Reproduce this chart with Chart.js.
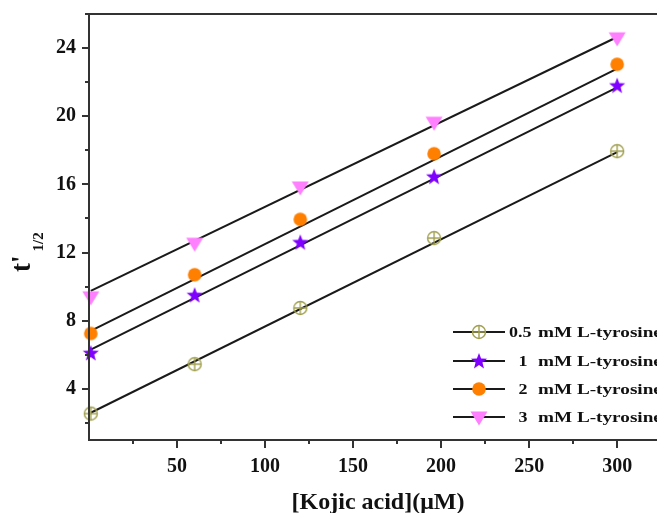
<!DOCTYPE html>
<html>
<head>
<meta charset="utf-8">
<script src="https://cdn.jsdelivr.net/npm/chart.js@4/dist/chart.umd.min.js"></script>
<style>
  html, body { margin: 0; padding: 0; background: #fff; overflow: hidden; }
  #wrap { width: 680px; height: 513px; }
</style>
</head>
<body>
<div id="wrap"><canvas id="kojicChart" width="680" height="513"></canvas></div>
<script>
// data
const kojicX = [1, 60, 120, 196, 300];
const tyr05 = [2.55, 5.45, 8.75, 12.85, 17.95];
const tyr1 = [6.1, 9.5, 12.6, 16.45, 21.8];
const tyr2 = [7.25, 10.7, 13.95, 17.8, 23.05];
const tyr3 = [9.4, 12.55, 15.85, 19.65, 24.6];

// fitted lines (end points)
const fitX = [1, 300];
const fit05 = [2.6, 17.9];
const fit1 = [6.3, 21.7];
const fit2 = [7.4, 22.8];
const fit3 = [9.75, 24.65];

const seriesNums = ["0.5", "1", "2", "3"];
const seriesUnit = "mM L-tyrosine";

const xTicks = [25, 50, 75, 100, 125, 150, 175, 200, 225, 250, 275, 300, 325];
const xTickLabels = [50, 100, 150, 200, 250, 300];
const yTicks = [2, 4, 6, 8, 10, 12, 14, 16, 18, 20, 22, 24, 26];
const yTickLabels = [4, 8, 12, 16, 20, 24];

const FONT = "'Liberation Serif', 'Times New Roman', serif";
const AXIS_COLOR = "#333";

// marker images
function makeMarker(kind, color) {
    const c = document.createElement("canvas");
    c.width = 20; c.height = 20;
    const g = c.getContext("2d");
    const cx = 10, cy = 10;
    g.fillStyle = color;
    g.strokeStyle = color;
    if (kind === "oplus") {
        g.lineWidth = 1.4;
        g.beginPath(); g.arc(cx, cy, 6.5, 0, Math.PI * 2); g.stroke();
        g.beginPath();
        g.moveTo(cx - 6.5, cy); g.lineTo(cx + 6.5, cy);
        g.moveTo(cx, cy - 6.5); g.lineTo(cx, cy + 6.5);
        g.stroke();
    } else if (kind === "star") {
        g.beginPath();
        for (let i = 0; i < 10; i++) {
            const r = i % 2 === 0 ? 8.5 : 3.6;
            const a = -Math.PI / 2 + i * Math.PI / 5;
            const px = cx + r * Math.cos(a), py = cy + 0.5 + r * Math.sin(a);
            if (i === 0) g.moveTo(px, py); else g.lineTo(px, py);
        }
        g.closePath(); g.fill();
    } else if (kind === "circle") {
        g.beginPath(); g.arc(cx, cy, 6.8, 0, Math.PI * 2); g.fill();
    } else if (kind === "tri") {
        g.beginPath();
        g.moveTo(cx - 8.5, cy - 5.5);
        g.lineTo(cx + 8.5, cy - 5.5);
        g.lineTo(cx, cy + 8.5);
        g.closePath(); g.fill();
    }
    return c;
}

const markers = [
    makeMarker("oplus", "#a0a050"),
    makeMarker("star", "#7f00ff"),
    makeMarker("circle", "#ff7f00"),
    makeMarker("tri", "#ff80ff")
];

const allSeries = [tyr05, tyr1, tyr2, tyr3];
const allFits = [fit05, fit1, fit2, fit3];

const datasets = [];
allFits.forEach((f, i) => {
    datasets.push({
        data: fitX.map((x, j) => ({ x: x, y: f[j] })),
        showLine: true,
        borderColor: "#1a1a1a",
        borderWidth: 2,
        pointRadius: 0,
        order: 2,
        clip: false
    });
});
allSeries.forEach((s, i) => {
    datasets.push({
        data: kojicX.map((x, j) => ({ x: x, y: s[j] })),
        showLine: false,
        pointStyle: markers[i],
        pointRadius: 9,
        order: 1,
        clip: false
    });
});

// no extra room for (empty) end labels
function noPad(s) {
    s.paddingLeft = 0; s.paddingRight = 0;
    s.paddingTop = 0; s.paddingBottom = 0;
}

// frame, tick marks, axis titles and legend
const decorations = {
    id: "decorations",
    afterDraw(chart) {
        const ctx = chart.ctx;
        const a = chart.chartArea;
        const xs = chart.scales.x, ys = chart.scales.y;
        ctx.save();
        ctx.strokeStyle = AXIS_COLOR;
        ctx.lineWidth = 2;
        ctx.beginPath();
        ctx.moveTo(a.left, a.top); ctx.lineTo(a.right, a.top);
        ctx.moveTo(a.left, a.top - 1); ctx.lineTo(a.left, a.bottom + 1);
        ctx.moveTo(a.left, a.bottom); ctx.lineTo(a.right, a.bottom);
        // y ticks
        yTicks.forEach(v => {
            const py = Math.round(ys.getPixelForValue(v));
            const len = yTickLabels.includes(v) ? 7 : 4;
            ctx.moveTo(a.left, py); ctx.lineTo(a.left - len, py);
        });
        // x ticks
        xTicks.forEach(v => {
            const px = Math.round(xs.getPixelForValue(v));
            const len = xTickLabels.includes(v) ? 8 : 4;
            ctx.moveTo(px, a.bottom); ctx.lineTo(px, a.bottom + len);
        });
        ctx.stroke();

        // x title
        ctx.fillStyle = "#111";
        ctx.font = "bold 24px " + FONT;
        ctx.textAlign = "center";
        ctx.textBaseline = "alphabetic";
        ctx.fillText("[Kojic acid](\u03bcM)", 378, 509);

        // y title t'1/2
        ctx.save();
        ctx.translate(30, 272);
        ctx.rotate(-Math.PI / 2);
        ctx.textAlign = "left";
        ctx.font = "bold 27px " + FONT;
        ctx.fillText("t'", 0, 0);
        const w = ctx.measureText("t'").width;
        ctx.font = "bold 15px " + FONT;
        ctx.fillText("1/2", w + 4, 13);
        ctx.restore();

        // legend
        const rows = [332, 361, 389, 417];
        rows.forEach((ry, i) => {
            ctx.strokeStyle = "#1a1a1a";
            ctx.lineWidth = 2;
            ctx.beginPath();
            ctx.moveTo(453, ry); ctx.lineTo(505, ry);
            ctx.stroke();
            const m = markers[i];
            ctx.drawImage(m, 479 - m.width / 2, ry - m.height / 2);

            ctx.fillStyle = "#111";
            ctx.font = "bold 15px " + FONT;
            ctx.textBaseline = "middle";
            ctx.save();
            if (i === 0) {
                ctx.translate(509, ry + 1);
                ctx.scale(1.2, 1);
                ctx.textAlign = "left";
            } else {
                ctx.translate(523, ry + 1);
                ctx.scale(1.2, 1);
                ctx.textAlign = "center";
            }
            ctx.fillText(seriesNums[i], 0, 0);
            ctx.restore();
            ctx.save();
            ctx.translate(538, ry + 1);
            ctx.scale(1.28, 1);
            ctx.textAlign = "left";
            ctx.fillText(seriesUnit, 0, 0);
            ctx.restore();
        });
        ctx.restore();
    }
};

const chart = new Chart(document.getElementById("kojicChart").getContext("2d"), {
    type: "scatter",
    data: { datasets: datasets },
    options: {
        responsive: false,
        animation: false,
        events: [],
        layout: { padding: { left: 0, top: 14, right: 8, bottom: 0 } },
        plugins: { legend: { display: false }, tooltip: { enabled: false } },
        scales: {
            x: {
                type: "linear",
                min: 0,
                max: 330,
                afterBuildTicks: s => { s.ticks = xTicks.map(v => ({ value: v })); },
                afterFit: s => { s.height = 73; noPad(s); },
                grid: { display: false, drawTicks: false },
                border: { display: false },
                ticks: {
                    autoSkip: false,
                    maxRotation: 0,
                    padding: 15,
                    color: "#111",
                    font: { family: FONT, size: 20, weight: "bold" },
                    callback: v => xTickLabels.includes(v) ? String(v) : ""
                }
            },
            y: {
                type: "linear",
                min: 1,
                max: 26,
                afterBuildTicks: s => { s.ticks = yTicks.map(v => ({ value: v })); },
                afterFit: s => { s.width = 89; noPad(s); },
                grid: { display: false, drawTicks: false },
                border: { display: false },
                ticks: {
                    autoSkip: false,
                    padding: 13,
                    color: "#111",
                    font: { family: FONT, size: 20, weight: "bold" },
                    callback: v => yTickLabels.includes(v) ? String(v) : ""
                }
            }
        }
    },
    plugins: [decorations]
});
</script>
</body>
</html>
